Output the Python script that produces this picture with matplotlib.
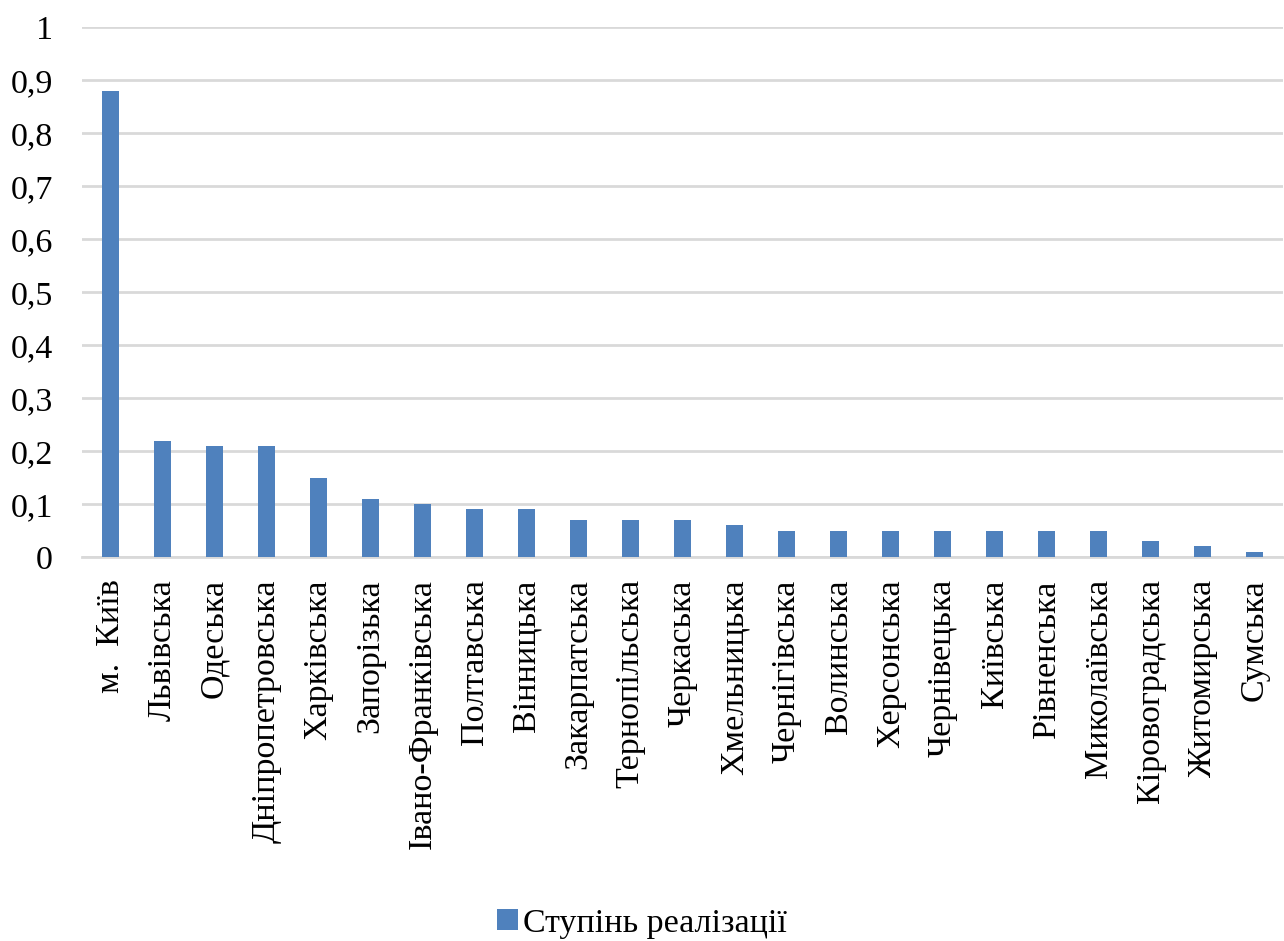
import matplotlib
matplotlib.use("Agg")
import matplotlib.pyplot as plt
from matplotlib.ticker import FixedLocator, FixedFormatter

categories = ["м.  Київ", "Львівська", "Одеська", "Дніпропетровська", "Харківська",
              "Запорізька", "Івано-Франківська", "Полтавська", "Вінницька",
              "Закарпатська", "Тернопільська", "Черкаська", "Хмельницька",
              "Чернігівська", "Волинська", "Херсонська", "Чернівецька", "Київська",
              "Рівненська", "Миколаївська", "Кіровоградська", "Житомирська", "Сумська"]
values = [0.88, 0.22, 0.21, 0.21, 0.15, 0.11, 0.10, 0.09, 0.09, 0.07, 0.07, 0.07,
          0.06, 0.05, 0.05, 0.05, 0.05, 0.05, 0.05, 0.05, 0.03, 0.02, 0.01]
yticks = [0, 0.1, 0.2, 0.3, 0.4, 0.5, 0.6, 0.7, 0.8, 0.9, 1.0]
yticklabels = ["0", "0,1", "0,2", "0,3", "0,4", "0,5", "0,6", "0,7", "0,8", "0,9", "1"]
series_name = "Ступінь реалізації"

plt.rcParams['font.family'] = ['Liberation Serif', 'DejaVu Serif']

fig = plt.figure(figsize=(12.84, 9.41), dpi=100)
ax = fig.add_axes([0.064, 0.408, 0.935, 0.563])

x = list(range(len(categories)))
ax.bar(x, values, width=0.32, color="#4F81BD", label=series_name, zorder=3)

ax.set_xlim(-0.54, len(categories) - 1 + 0.54)
ax.set_ylim(0, 1.0)
ax.yaxis.set_major_locator(FixedLocator(yticks))
ax.yaxis.set_major_formatter(FixedFormatter(yticklabels))
ax.set_xticks(x)
ax.set_xticklabels(categories, rotation=90, fontsize=24.5)
ax.tick_params(axis='y', labelsize=24.5, length=0, pad=21)
ax.tick_params(axis='x', length=0, pad=16)
ax.grid(axis='y', color="#D9D9D9", linewidth=2, zorder=0)
for s in ["top", "right", "left"]:
    ax.spines[s].set_visible(False)
ax.spines["bottom"].set_color("#D9D9D9")
ax.spines["bottom"].set_linewidth(2)

fig.legend(loc="lower center", bbox_to_anchor=(0.5, -0.03), frameon=False,
           fontsize=24.5, handlelength=0.6, handleheight=0.6, handletextpad=0.15)

fig.savefig("out.png", dpi=100)
